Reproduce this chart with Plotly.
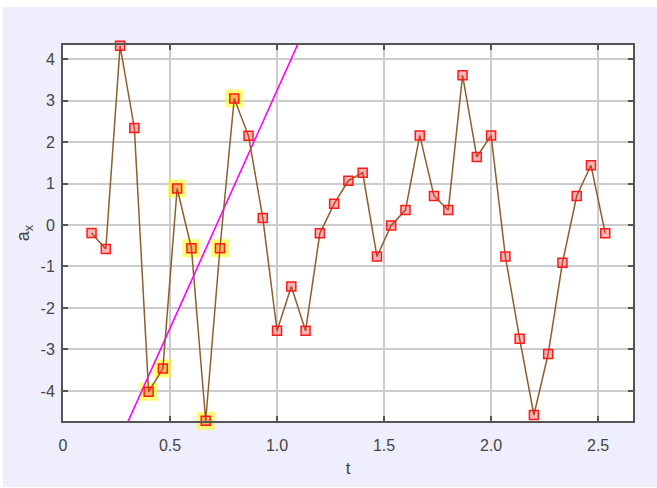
import numpy as np
import plotly.graph_objects as go

t = [0.1333, 0.2, 0.2667, 0.3333, 0.4, 0.4667, 0.5333, 0.6, 0.6667, 0.7333,
     0.8, 0.8667, 0.9333, 1.0, 1.0667, 1.1333, 1.2, 1.2667, 1.3333, 1.4,
     1.4667, 1.5333, 1.6, 1.6667, 1.7333, 1.8, 1.8667, 1.9333, 2.0, 2.0667,
     2.1333, 2.2, 2.2667, 2.3333, 2.4, 2.4667, 2.5333]
ax = [-0.19, -0.58, 4.32, 2.34, -4.02, -3.46, 0.88, -0.56, -4.72, -0.56,
      3.05, 2.15, 0.17, -2.55, -1.48, -2.55, -0.20, 0.51, 1.07, 1.26,
      -0.76, -0.01, 0.36, 2.16, 0.70, 0.36, 3.61, 1.64, 2.16, -0.76,
      -2.74, -4.58, -3.11, -0.91, 0.70, 1.44, -0.20]
selected = [4, 5, 6, 7, 8, 9, 10]
x_ticks = [0, 0.5, 1.0, 1.5, 2.0, 2.5]
x_tick_labels = ["0", "0.5", "1.0", "1.5", "2.0", "2.5"]
y_ticks = [-4, -3, -2, -1, 0, 1, 2, 3, 4]
y_tick_labels = ["-4", "-3", "-2", "-1", "0", "1", "2", "3", "4"]
x_range = [0, 2.663]
y_range = [-4.725, 4.34]

sel_t = [t[i] for i in selected]
sel_a = [ax[i] for i in selected]
slope, intercept = np.polyfit(sel_t, sel_a, 1)
fit_x = [x_range[0], x_range[1]]
fit_y = [slope * v + intercept for v in fit_x]

fig = go.Figure()
fig.add_trace(go.Scatter(
    x=sel_t, y=sel_a, mode="markers",
    marker=dict(symbol="square", size=18, color="rgba(255,255,0,0.55)", line=dict(width=0)),
    hoverinfo="skip", cliponaxis=False, showlegend=False))
fig.add_trace(go.Scatter(
    x=fit_x, y=fit_y, mode="lines",
    line=dict(color="#FF00FF", width=1.6), showlegend=False))
fig.add_trace(go.Scatter(
    x=t, y=ax, mode="lines",
    line=dict(color="#8E5E2C", width=1.5),
    showlegend=False))
fig.add_trace(go.Scatter(
    x=t, y=ax, mode="markers",
    marker=dict(symbol="square", size=9, color="rgba(255,40,40,0.35)",
                line=dict(color="#FF1A1A", width=1.5)),
    cliponaxis=False, showlegend=False))

font_family = "Liberation Sans, Arial, sans-serif"
axis_common = dict(
    showline=True, linecolor="#555555", linewidth=2, mirror="ticks",
    ticks="inside", ticklen=5, tickwidth=1.5, tickcolor="#555555",
    showgrid=True, gridcolor="#CCCCCC", gridwidth=1.5, zeroline=False,
    tickfont=dict(family=font_family, size=16, color="#444444"),
)
fig.update_xaxes(range=x_range, tickvals=x_ticks, ticktext=x_tick_labels,
                 ticklabelstandoff=9,
                 title=dict(text="t", font=dict(family=font_family, size=17, color="#444444"), standoff=9),
                 **axis_common)
fig.update_yaxes(range=y_range, tickvals=y_ticks, ticktext=y_tick_labels,
                 ticklabelstandoff=3,
                 title=dict(text="a<sub>x</sub>", font=dict(family=font_family, size=18, color="#444444"), standoff=6),
                 **axis_common)
fig.update_layout(
    width=654, height=480,
    margin=dict(l=60, r=24, t=38, b=63),
    paper_bgcolor="#EEEEFC", plot_bgcolor="#FFFFFF",
)
fig.write_html("out.html", post_script="document.body.style.margin='7px 0 0 3px';")
